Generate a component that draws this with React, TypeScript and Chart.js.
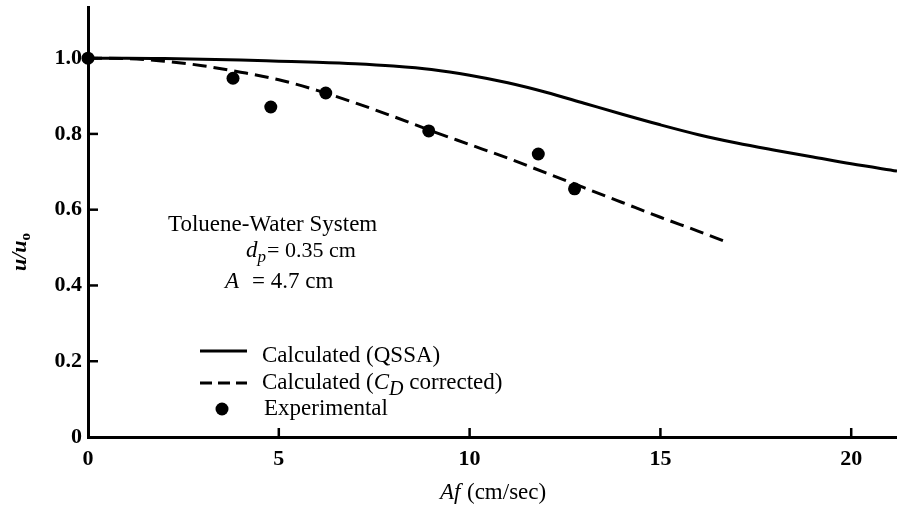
import React, { useEffect, useRef } from 'react';
import { Chart, registerables } from 'chart.js';
Chart.register(...registerables);

const FONT = '"Liberation Serif", "Times New Roman", serif';

// Calculated (QSSA) — solid curve
const qssaX = [0, 1, 2, 3, 4, 5, 6, 7, 8, 9, 10, 11, 12, 13, 14, 15, 16, 17, 18, 19, 20, 21.2];
const qssaY = [1.0, 1.0, 0.999, 0.997, 0.995, 0.992, 0.989, 0.985, 0.979, 0.97, 0.955, 0.935, 0.91, 0.881, 0.852, 0.824, 0.798, 0.776, 0.757, 0.739, 0.721, 0.702];

// Calculated (C_D corrected) — dashed curve
const cdX = [0, 1, 2, 3, 4, 5, 6, 7, 8, 9, 10, 11, 12, 13, 14, 15, 16, 16.7];
const cdY = [1.0, 0.999, 0.992, 0.98, 0.963, 0.943, 0.915, 0.882, 0.846, 0.808, 0.772, 0.736, 0.697, 0.658, 0.619, 0.58, 0.543, 0.516];

// Experimental points
const expX = [0, 3.8, 4.79, 6.23, 8.93, 11.8, 12.75];
const expY = [1.0, 0.947, 0.871, 0.908, 0.808, 0.747, 0.655];

const xTicks = [0, 5, 10, 15, 20];
const yTicks = [0, 0.2, 0.4, 0.6, 0.8, 1.0];
const xMax = 21.2;
const yMax = 1.135;

type Run = { t: string; f: string; dy?: number; x?: number };

function drawRuns(ctx: CanvasRenderingContext2D, x: number, y: number, runs: Run[]) {
  let cx = x;
  for (const r of runs) {
    if (r.x !== undefined) cx = r.x;
    ctx.font = r.f;
    ctx.fillText(r.t, cx, y + (r.dy || 0));
    cx += ctx.measureText(r.t).width;
  }
  return cx;
}

const decor = {
  id: 'decor',
  afterDraw(chart: any) {
    const ctx: CanvasRenderingContext2D = chart.ctx;
    const xs = chart.scales.x;
    const ys = chart.scales.y;
    ctx.save();
    ctx.strokeStyle = '#000';
    ctx.fillStyle = '#000';
    ctx.lineWidth = 2.5;
    ctx.setLineDash([]);
    // inward tick marks
    for (const v of yTicks) {
      if (v === 0) continue;
      const py = ys.getPixelForValue(v);
      ctx.beginPath();
      ctx.moveTo(xs.left, py);
      ctx.lineTo(xs.left + 10, py);
      ctx.stroke();
    }
    for (const v of xTicks) {
      if (v === 0) continue;
      const px = xs.getPixelForValue(v);
      ctx.beginPath();
      ctx.moveTo(px, ys.bottom);
      ctx.lineTo(px, ys.bottom - 9);
      ctx.stroke();
    }

    const reg = `23px ${FONT}`;
    const ital = `italic 23px ${FONT}`;
    const reg22 = `22px ${FONT}`;
    const sub = `italic 17px ${FONT}`;
    ctx.textBaseline = 'alphabetic';
    ctx.textAlign = 'left';

    // annotation
    drawRuns(ctx, 168, 231, [{ t: 'Toluene-Water System', f: reg }]);
    drawRuns(ctx, 246, 257, [
      { t: 'd', f: ital },
      { t: 'p', f: sub, dy: 5 },
      { t: '= 0.35 cm', f: reg22, x: 267 },
    ]);
    drawRuns(ctx, 225, 288, [
      { t: 'A', f: ital },
      { t: '= 4.7 cm', f: reg, x: 252 },
    ]);

    // legend
    ctx.lineWidth = 3;
    ctx.beginPath();
    ctx.moveTo(200, 351);
    ctx.lineTo(247, 351);
    ctx.stroke();
    drawRuns(ctx, 262, 362, [{ t: 'Calculated (QSSA)', f: reg }]);

    ctx.setLineDash([12, 6]);
    ctx.beginPath();
    ctx.moveTo(200, 383);
    ctx.lineTo(247, 383);
    ctx.stroke();
    ctx.setLineDash([]);
    drawRuns(ctx, 262, 389, [
      { t: 'Calculated (', f: reg },
      { t: 'C', f: ital },
      { t: 'D', f: `italic 20px ${FONT}`, dy: 6 },
      { t: ' corrected)', f: reg },
    ]);

    ctx.beginPath();
    ctx.arc(222, 409, 6.5, 0, Math.PI * 2);
    ctx.fill();
    drawRuns(ctx, 264, 415, [{ t: 'Experimental', f: reg }]);

    // x title
    drawRuns(ctx, 440, 499, [
      { t: 'Af', f: ital },
      { t: '(cm/sec)', f: reg, x: 467 },
    ]);

    // y title (rotated)
    ctx.translate(26, 271);
    ctx.rotate(-Math.PI / 2);
    drawRuns(ctx, 0, 0, [
      { t: 'u/u', f: `italic bold 22px ${FONT}` },
      { t: 'o', f: `bold 15px ${FONT}`, dy: 4 },
    ]);
    ctx.restore();
  },
};

export default function App() {
  const ref = useRef<HTMLCanvasElement | null>(null);
  useEffect(() => {
    if (!ref.current) return;
    const chart = new Chart(ref.current, {
      type: 'scatter',
      data: {
        datasets: [
          {
            label: 'Experimental',
            data: expX.map((x, i) => ({ x, y: expY[i] })),
            pointRadius: 6.5,
            pointBackgroundColor: '#000',
            pointBorderColor: '#000',
            pointBorderWidth: 0,
            showLine: false,
            clip: false as any,
            order: 0,
          },
          {
            label: 'Calculated (QSSA)',
            data: qssaX.map((x, i) => ({ x, y: qssaY[i] })),
            showLine: true,
            borderColor: '#000',
            borderWidth: 3,
            pointRadius: 0,
            cubicInterpolationMode: 'monotone',
            order: 1,
          } as any,
          {
            label: 'Calculated (CD corrected)',
            data: cdX.map((x, i) => ({ x, y: cdY[i] })),
            showLine: true,
            borderColor: '#000',
            borderWidth: 3,
            borderDash: [14, 7],
            pointRadius: 0,
            cubicInterpolationMode: 'monotone',
            order: 2,
          } as any,
        ],
      },
      options: {
        animation: false,
        responsive: false,
        events: [],
        layout: { autoPadding: false, padding: { top: 7, right: 0, left: 0, bottom: 0 } },
        plugins: { legend: { display: false }, tooltip: { enabled: false } },
        scales: {
          x: {
            type: 'linear',
            min: 0,
            max: xMax,
            afterFit: (s: any) => { s.height = 73; s.paddingLeft = 0; s.paddingRight = 0; s.paddingTop = 0; s.paddingBottom = 0; },
            afterBuildTicks: (s: any) => { s.ticks = xTicks.map((v) => ({ value: v })); },
            grid: { display: true, drawOnChartArea: false, drawTicks: false },
            border: { display: true, color: '#000', width: 3 },
            ticks: {
              padding: 9,
              color: '#000',
              font: { family: FONT, size: 22, weight: 'bold' },
              callback: (v: any) => String(v),
            },
          },
          y: {
            type: 'linear',
            min: 0,
            max: yMax,
            afterFit: (s: any) => { s.width = 88; s.paddingLeft = 0; s.paddingRight = 0; s.paddingTop = 0; s.paddingBottom = 0; },
            afterBuildTicks: (s: any) => { s.ticks = yTicks.map((v) => ({ value: v })); },
            grid: { display: true, drawOnChartArea: false, drawTicks: false },
            border: { display: true, color: '#000', width: 3 },
            ticks: {
              padding: 6,
              color: '#000',
              font: { family: FONT, size: 22, weight: 'bold' },
              callback: (v: any) => (v === 0 ? '0' : Number(v).toFixed(1)),
            },
          },
        },
      } as any,
      plugins: [decor],
    });
    return () => chart.destroy();
  }, []);
  return (
    <div style={{ position: 'fixed', left: 0, top: 0, width: 897, height: 510, background: '#fff' }}>
      <canvas ref={ref} width={897} height={510} style={{ width: 897, height: 510, display: 'block' }} />
    </div>
  );
}
